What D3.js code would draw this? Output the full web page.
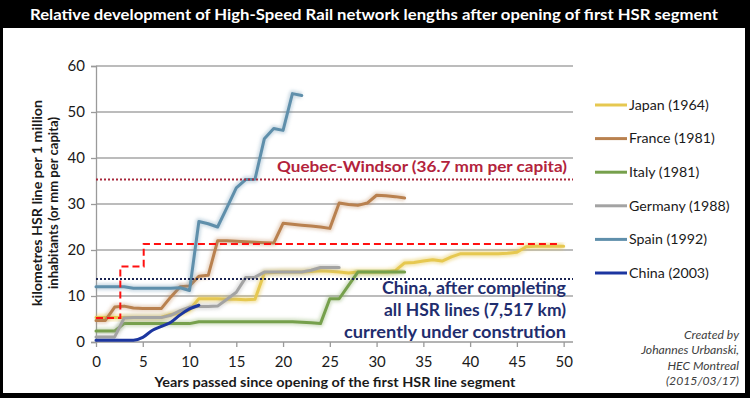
<!DOCTYPE html>
<html><head><meta charset="utf-8">
<script src="https://cdn.jsdelivr.net/npm/d3@7"></script>
<style>body{margin:0;background:#fff}svg{display:block}</style>
</head><body>
<svg id="c" width="750" height="398"></svg>
<script>
// ---- data ----
const seriesNames = ["Japan (1964)","France (1981)","Italy (1981)","Germany (1988)","Spain (1992)","China (2003)"];
const japan   = [5.3,5.3,5.3,5.3,5.3,5.3,5.3,5.4,6.0,6.2,7.0,9.4,9.4,9.4,9.3,9.3,9.2,9.3,15.0,15.1,15.2,15.2,15.2,15.3,15.5,15.4,15.2,15.0,15.2,15.2,15.2,15.2,15.5,17.2,17.3,17.6,17.9,17.6,18.5,19.2,19.2,19.2,19.2,19.2,19.3,19.5,20.7,20.8,20.8,20.8,20.8];
const france  = [4.7,4.7,7.6,7.8,7.4,7.3,7.3,7.3,9.8,12.0,12.2,14.3,14.5,22.0,22.0,21.9,21.8,21.7,21.6,21.5,25.8,25.6,25.4,25.2,25.0,24.7,30.2,29.9,29.7,30.2,31.9,31.8,31.6,31.3];
const italy   = [2.4,2.4,2.4,4.0,4.0,4.0,4.0,4.0,4.0,4.0,4.0,4.4,4.4,4.4,4.4,4.4,4.4,4.4,4.4,4.4,4.4,4.4,4.3,4.2,4.0,9.4,9.4,12.3,15.2,15.2,15.2,15.2,15.2,15.2];
const germany = [1.1,1.1,1.1,5.2,5.3,5.3,5.3,5.3,5.8,6.8,7.6,7.7,7.7,7.8,9.3,10.8,14.0,14.1,15.2,15.2,15.2,15.2,15.2,15.6,16.2,16.2,16.2];
const spain   = [12.0,12.0,12.0,12.0,11.7,11.7,11.7,11.7,11.7,11.8,11.2,26.2,25.7,25.0,29.2,33.5,35.3,35.4,44.2,46.4,46.0,54.0,53.6];
const china   = [0.4,0.4,0.4,0.4,0.4,1.0,2.5,3.4,4.3,5.9,7.2,8.0];
const seriesColors = ["#e6c850","#b9814f","#76a04c","#a3a3a3","#5f8fab","#1c36a0"];
const xTicks = [0,5,10,15,20,25,30,35,40,45,50];
const yTicks = [0,10,20,30,40,50,60];
const quebecLevel = 35.3;
const chinaLevel = 13.7;
const stepYears = [0,2.6,5.1,49.5];
const stepValues = [5.2,16.4,21.3,21.3];

const svg = d3.select("#c");
const W = 750, H = 398;
const FONT = "Lato, 'Open Sans', sans-serif";

// frame
svg.append("rect").attr("x",0).attr("y",0).attr("width",W).attr("height",H).attr("fill","#000");
svg.append("rect").attr("x",3).attr("y",28).attr("width",742).attr("height",365).attr("fill","#fff");
svg.append("text").attr("x",374).attr("y",20).attr("text-anchor","middle")
  .attr("fill","#fff").attr("font-family",FONT).attr("font-weight","bold").attr("font-size",16)
  .attr("textLength",688).attr("lengthAdjust","spacingAndGlyphs")
  .text("Relative development of High-Speed Rail network lengths after opening of first HSR segment");

const x = d3.scaleLinear().domain([0,51]).range([96,573]);
const y = d3.scaleLinear().domain([0,60]).range([342,66]);

// gridlines
svg.append("g").selectAll("line").data(yTicks.filter(d=>d>0)).join("line")
  .attr("x1",x(0)).attr("x2",x(51)).attr("y1",d=>y(d)).attr("y2",d=>y(d))
  .attr("stroke","#a6a6a6").attr("stroke-width",1.3);

// axes
const yAxis = svg.append("g").attr("transform",`translate(${x(0)},0)`)
  .call(d3.axisLeft(y).tickValues(yTicks).tickSize(5).tickPadding(6));
const xAxis = svg.append("g").attr("transform",`translate(0,${y(0)})`)
  .call(d3.axisBottom(x).tickValues(xTicks).tickSize(5).tickPadding(9));
[yAxis,xAxis].forEach(a=>{
  a.selectAll(".domain").attr("stroke","#9a9a9a").attr("stroke-width",1.3);
  a.selectAll(".tick line").attr("stroke","#9a9a9a").attr("stroke-width",1.3);
  a.selectAll("text").attr("font-family",FONT).attr("font-size",15).attr("fill","#1a1a1a");
});
xAxis.select(".domain").attr("d",`M${x(0)},0H${x(51)}`);

// axis titles
svg.append("text").attr("x",335).attr("y",387).attr("text-anchor","middle")
  .attr("font-family",FONT).attr("font-weight","bold").attr("font-size",13.5).attr("fill","#1a1a1a")
  .attr("textLength",361).attr("lengthAdjust","spacingAndGlyphs")
  .text("Years passed since opening of the first HSR line segment");
const yt = svg.append("g").attr("transform","translate(0,203) rotate(-90)");
yt.append("text").attr("x",0).attr("y",42).attr("text-anchor","middle")
  .attr("font-family",FONT).attr("font-weight","bold").attr("font-size",13.5).attr("fill","#1a1a1a")
  .attr("textLength",206).attr("lengthAdjust","spacingAndGlyphs")
  .text("kilometres HSR line per 1 million");
yt.append("text").attr("x",0).attr("y",58).attr("text-anchor","middle")
  .attr("font-family",FONT).attr("font-weight","bold").attr("font-size",13.5).attr("fill","#1a1a1a")
  .attr("textLength",172).attr("lengthAdjust","spacingAndGlyphs")
  .text("inhabitants (or mm per capita)");

// glow filter
const defs = svg.append("defs");
defs.append("filter").attr("id","glow").attr("x","-5%").attr("y","-5%").attr("width","110%").attr("height","110%")
  .append("feGaussianBlur").attr("stdDeviation",1.6);

const allSeries = [japan,france,italy,germany,spain,china];
const line = d3.line().x((d,i)=>x(i)).y(d=>y(d));
const lineSmooth = d3.line().x((d,i)=>x(i)).y(d=>y(d)).curve(d3.curveMonotoneX);
const gS = svg.append("g");
allSeries.forEach((s,k)=>{
  const gen = k===5 ? lineSmooth : line;
  if(k<5){
    gS.append("path").attr("d",gen(s)).attr("fill","none").attr("stroke",seriesColors[k])
      .attr("stroke-width",7).attr("stroke-opacity",k===0?0.45:0.3).attr("filter","url(#glow)")
      .attr("stroke-linejoin","round");
  }
  gS.append("path").attr("d",gen(s)).attr("fill","none").attr("stroke",seriesColors[k])
    .attr("stroke-width",3).attr("stroke-linejoin","round").attr("stroke-linecap","round");
});

// reference lines
svg.append("line").attr("x1",x(0)).attr("x2",x(51)).attr("y1",y(quebecLevel)).attr("y2",y(quebecLevel))
  .attr("stroke","#a8283c").attr("stroke-width",2).attr("stroke-dasharray","2,2");
svg.append("line").attr("x1",x(0)).attr("x2",x(51)).attr("y1",y(chinaLevel)).attr("y2",y(chinaLevel))
  .attr("stroke","#1b2452").attr("stroke-width",2).attr("stroke-dasharray","2,2");
const stepLine = d3.line().x((d,i)=>x(stepYears[i])).y(d=>y(d)).curve(d3.curveStepAfter);
svg.append("path").attr("d",stepLine(stepValues)).attr("fill","none").attr("stroke","#ff1010")
  .attr("stroke-width",2).attr("stroke-dasharray","7,4");

// annotations
svg.append("text").attr("x",567).attr("y",172).attr("text-anchor","end")
  .attr("font-family",FONT).attr("font-weight","bold").attr("font-size",16).attr("fill","#b3233c")
  .attr("textLength",290).attr("lengthAdjust","spacingAndGlyphs")
  .text("Quebec-Windsor (36.7 mm per capita)");
const cn = [["China, after completing",184,294],["all HSR lines (7,517 km)",182,316],["currently under constrution",222,338]];
cn.forEach(([t,w,yy])=>{
  svg.append("text").attr("x",566).attr("y",yy).attr("text-anchor","end")
    .attr("font-family",FONT).attr("font-weight","bold").attr("font-size",16.5).attr("fill","#1f2d6e")
    .attr("textLength",w).attr("lengthAdjust","spacingAndGlyphs").text(t);
});
const credit = ["Created by","Johannes Urbanski,","HEC Montreal","(2015/03/17)"];
credit.forEach((t,i)=>{
  svg.append("text").attr("x",739).attr("y",339+i*15.3).attr("text-anchor","end")
    .attr("font-family",FONT).attr("font-style","italic").attr("font-size",12.2).attr("fill","#404040").text(t);
});

// legend
const lg = svg.append("g");
seriesNames.forEach((n,k)=>{
  const yy = 105 + k*33.6;
  lg.append("line").attr("x1",595).attr("x2",627).attr("y1",yy).attr("y2",yy)
    .attr("stroke",seriesColors[k]).attr("stroke-width",3);
  lg.append("text").attr("x",629).attr("y",yy+4.8).attr("font-family",FONT).attr("font-size",14.2)
    .attr("fill","#1a1a1a").text(n);
});
</script>
</body></html>
